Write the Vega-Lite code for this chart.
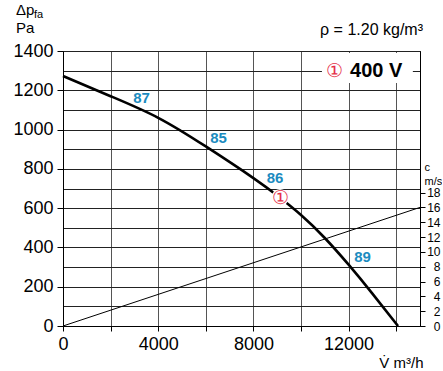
{
  "$schema": "https://vega.github.io/schema/vega-lite/v6.json",
  "width": 357,
  "height": 275,
  "autosize": {"type": "none"},
  "padding": {"left": 63, "top": 51, "right": 22, "bottom": 45},
  "background": "white",
  "config": {
    "view": {"stroke": "#000", "strokeWidth": 1},
    "font": "Liberation Sans",
    "axis": {"labelFont": "Liberation Sans", "titleFont": "Liberation Sans", "labelColor": "#000", "titleColor": "#000", "tickColor": "#000", "domainColor": "#000", "gridOpacity": 1}
  },
  "datasets": {
    "curve": [
      {"q": 0, "p": 1273},
      {"q": 2000, "p": 1170},
      {"q": 4000, "p": 1060},
      {"q": 6000, "p": 914},
      {"q": 8000, "p": 753},
      {"q": 9000, "p": 664},
      {"q": 10000, "p": 565},
      {"q": 11000, "p": 448},
      {"q": 12000, "p": 312},
      {"q": 13000, "p": 165},
      {"q": 14076, "p": 0}
    ],
    "vel": [
      {"q": 0, "c": 0},
      {"q": 15000, "c": 16}
    ],
    "box": [
      {"q": 10880, "q2": 14700, "p": 1237, "p2": 1390}
    ],
    "ann": [
      {"kind": "eff", "label": "87", "q": 3298, "p": 1163},
      {"kind": "eff", "label": "85", "q": 6534, "p": 957},
      {"kind": "eff", "label": "86", "q": 8908, "p": 756},
      {"kind": "eff", "label": "89", "q": 12584, "p": 349},
      {"kind": "mark", "label": "①", "q": 9118, "p": 654},
      {"kind": "mark", "label": "①", "q": 11387, "p": 1300},
      {"kind": "volt", "label": "400 V", "q": 12059, "p": 1300},
      {"kind": "head", "label": "Δp", "q": -1975, "p": 1583},
      {"kind": "sub", "label": "fa", "q": -1218, "p": 1568},
      {"kind": "head", "label": "Pa", "q": -1975, "p": 1492},
      {"kind": "rho", "label": "ρ = 1.20 kg/m³", "q": 15126, "p": 1481}
    ]
  },
  "encoding": {
    "x": {
      "field": "q",
      "type": "quantitative",
      "scale": {"domain": [0, 15000], "nice": false, "zero": false},
      "axis": {
        "values": [0, 2000, 4000, 6000, 8000, 10000, 12000, 14000],
        "grid": true,
        "gridColor": "#555",
        "gridWidth": 1,
        "labelExpr": "datum.value % 4000 === 0 ? format(datum.value, 'd') : ''",
        "labelFontSize": 18,
        "labelPadding": 4,
        "labelFlush": false,
        "labelOverlap": false,
        "tickSize": 5,
        "title": "V̇  m³/h",
        "titleFontSize": 15,
        "titleFontWeight": "normal",
        "titleAnchor": "end",
        "titleAlign": "right",
        "titleBaseline": "alphabetic",
        "titleX": 360,
        "titleY": 41
      }
    }
  },
  "layer": [
    {
      "encoding": {
        "y": {
          "field": "p",
          "type": "quantitative",
          "scale": {"domain": [0, 1400], "nice": false, "zero": false},
          "axis": {
            "values": [0, 100, 200, 300, 400, 500, 600, 700, 800, 900, 1000, 1100, 1200, 1300, 1400],
            "grid": true,
            "gridColor": "#222",
            "gridWidth": 1,
            "format": "d",
            "labelExpr": "datum.value % 200 === 0 ? datum.label : ''",
            "tickOpacity": {"condition": {"test": "datum.value % 200 === 0", "value": 1}, "value": 0},
            "labelFontSize": 18,
            "labelPadding": 4,
            "labelOverlap": false,
            "tickSize": 6,
            "title": null
          }
        }
      },
      "layer": [
        {
          "data": {"name": "box"},
          "mark": {"type": "rect", "fill": "white", "stroke": null},
          "encoding": {"x2": {"field": "q2"}, "y2": {"field": "p2"}}
        },
        {
          "data": {"name": "curve"},
          "mark": {"type": "line", "color": "#000", "strokeWidth": 2.6, "interpolate": "natural"},
          "encoding": {}
        },
        {
          "data": {"name": "ann"},
          "transform": [{"filter": "datum.kind === 'mark' && datum.p < 1000"}],
          "mark": {"type": "point", "filled": true, "fill": "white", "opacity": 1, "size": 300, "shape": "circle", "strokeWidth": 0},
          "encoding": {}
        },
        {
          "data": {"name": "ann"},
          "transform": [{"filter": "datum.kind === 'eff'"}],
          "mark": {"type": "text", "color": "#1b8bc0", "fontSize": 15, "fontWeight": "bold", "align": "center", "baseline": "middle"},
          "encoding": {"text": {"field": "label"}}
        },
        {
          "data": {"name": "ann"},
          "transform": [{"filter": "datum.kind === 'mark'"}],
          "mark": {"type": "text", "color": "#e5304a", "fontSize": 19, "align": "center", "baseline": "middle"},
          "encoding": {"text": {"field": "label"}}
        },
        {
          "data": {"name": "ann"},
          "transform": [{"filter": "datum.kind === 'volt'"}],
          "mark": {"type": "text", "color": "#000", "fontSize": 20, "fontWeight": "bold", "align": "left", "baseline": "middle"},
          "encoding": {"text": {"field": "label"}}
        },
        {
          "data": {"name": "ann"},
          "transform": [{"filter": "datum.kind === 'head'"}],
          "mark": {"type": "text", "color": "#000", "fontSize": 15, "align": "left", "baseline": "alphabetic"},
          "encoding": {"text": {"field": "label"}}
        },
        {
          "data": {"name": "ann"},
          "transform": [{"filter": "datum.kind === 'sub'"}],
          "mark": {"type": "text", "color": "#000", "fontSize": 11, "align": "left", "baseline": "alphabetic"},
          "encoding": {"text": {"field": "label"}}
        },
        {
          "data": {"name": "ann"},
          "transform": [{"filter": "datum.kind === 'rho'"}],
          "mark": {"type": "text", "color": "#000", "fontSize": 16, "align": "right", "baseline": "alphabetic"},
          "encoding": {"text": {"field": "label"}}
        }
      ]
    },
    {
      "data": {"name": "vel"},
      "mark": {"type": "line", "color": "#000", "strokeWidth": 1},
      "encoding": {
        "y": {
          "field": "c",
          "type": "quantitative",
          "scale": {"domain": [0, 37.1], "nice": false, "zero": false},
          "axis": {
            "orient": "right",
            "values": [0, 2, 4, 6, 8, 10, 12, 14, 16, 18],
            "grid": false,
            "labelFontSize": 12,
            "labelAlign": "right",
            "labelPadding": 15,
            "labelOverlap": false,
            "tickSize": 5,
            "title": ["c", "m/s"],
            "titleAngle": 0,
            "titleAlign": "left",
            "titleBaseline": "alphabetic",
            "titleX": 4,
            "titleY": 119,
            "titleFontSize": 11,
            "titleFontWeight": "normal",
            "titleLineHeight": 14
          }
        }
      }
    }
  ],
  "resolve": {"scale": {"y": "independent"}}
}
